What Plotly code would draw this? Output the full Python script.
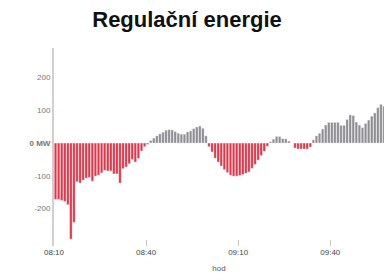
import pandas as pd
import plotly.graph_objects as go

# Regulation energy per minute (MW), 08:10 .. 09:57
start_time = "2024-01-01 08:10:30"
values = [
    -172, -172, -175, -178, -188, -293, -242, -118, -122, -113,
    -107, -105, -116, -101, -98, -91, -83, -85, -85, -94,
    -94, -122, -78, -73, -63, -50, -58, -47, -24, -11,
    -4, 8, 15, 22, 28, 33, 39, 41, 40, 35,
    30, 27, 27, 34, 37, 44, 49, 52, 45, 22,
    -11, -27, -46, -58, -70, -81, -90, -98, -101, -101,
    -99, -96, -92, -88, -77, -65, -52, -38, -25, -10,
    4, 12, 20, 20, 13, 13, 6, 0, -15, -18,
    -18, -18, -18, -12, 10, 22, 30, 43, 55, 63,
    63, 63, 63, 54, 54, 72, 86, 84, 64, 55,
    47, 60, 70, 82, 92, 108, 118, 112,
]
ytick_vals = [200, 100, 0, -100, -200]
ytick_text = ["200", "100", "<b>0 MW</b>", "-100", "-200"]
title_text = "Regulační energie"
xaxis_title = "hod"

times = pd.date_range(start_time, periods=len(values), freq="min")
colors = ["#d8394c" if v < 0 else "#8d8d92" for v in values]

fig = go.Figure(go.Bar(
    x=times, y=values,
    marker=dict(color=colors, line=dict(color="rgba(255,255,255,0.55)", width=0.6)),
    width=60000 * 0.82,
))

fig.update_layout(
    width=384, height=280,
    margin=dict(l=54, r=0, t=48, b=34, autoexpand=False),
    paper_bgcolor="white", plot_bgcolor="white",
    showlegend=False,
    font=dict(family="Liberation Sans, Arial, sans-serif"),
    title=dict(text="<b>" + title_text + "</b>", x=0.487, xanchor="center",
               yref="container", y=0.93, yanchor="middle", automargin=False,
               font=dict(size=22, color="#111111")),
)
fig.update_xaxes(
    automargin=False,
    range=["2024-01-01 08:10:00", "2024-01-01 09:57:30"],
    tick0="2024-01-01 08:10:00", dtick=30 * 60000, tickformat="%H:%M",
    showgrid=False, zeroline=False, showline=False,
    ticks="inside", ticklen=6, tickcolor="#c8c8c8", tickwidth=1,
    tickfont=dict(size=8, color="#444444", family="Liberation Sans, Arial, sans-serif"),
    title=dict(text=xaxis_title, font=dict(size=8, color="#555555"), standoff=9),
)
fig.update_yaxes(
    automargin=False,
    range=[-314, 290],
    tickvals=ytick_vals, ticktext=ytick_text,
    showgrid=False, zeroline=False,
    showline=True, linecolor="#d0d0d0", linewidth=2,
    ticks="", tickfont=dict(size=8, color="#777777"),
)

fig.write_html(
    "out.html",
    config={"displayModeBar": False},
    post_script="document.body.style.margin='0';document.body.style.overflow='hidden';",
)
